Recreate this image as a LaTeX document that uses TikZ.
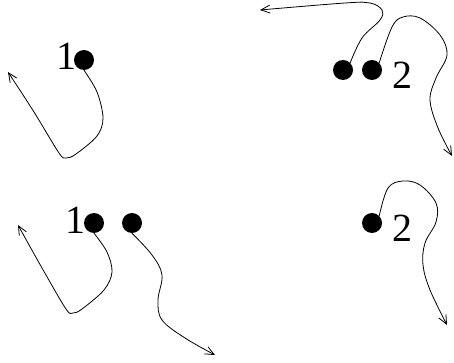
\documentclass[tikz,border=0pt]{standalone}
\usepackage{fontspec}
\setmainfont{Liberation Serif}
\usetikzlibrary{arrows.meta}
\tikzset{
  dot/.style={circle, fill=black, inner sep=0pt, minimum size=20pt},
  lbl/.style={inner sep=0pt, font=\fontsize{40}{44}\selectfont},
  path/.style={line width=0.8pt, -{Straight Barb[length=9pt,width=8pt,line width=0.8pt]}},
}
\begin{document}
\begin{tikzpicture}[x=1pt, y=-1pt]
\useasboundingbox (0,0) rectangle (454,363);

% upper left: one particle labelled 1
\node[dot] (a1) at (84,60) {};
\node[lbl] (la1) at (66,56) {1};
\coordinate (ea1) at (8,72);
\draw[path] plot[smooth, tension=0.55] coordinates
  {(a1.south) (97,92) (103,118) (97,136) (76,154) (66,158) (59,153) (34,112) (ea1)};

% upper right: two particles labelled 2
\node[dot] (b1) at (343,70) {};
\node[dot] (b2) at (372,70) {};
\node[lbl] (lb) at (402,75) {2};
\coordinate (eb1) at (260,10);
\coordinate (eb2) at (452,156);
\draw[path] plot[smooth, tension=0.6] coordinates
  {(b1.north east) (362,38) (380,20) (382,10) (370,3) (345,3) (eb1)};
\draw[path] plot[smooth, tension=0.6] coordinates
  {(b2.north east) (392,27) (403,17) (420,18) (440,35) (447,55) (436,78) (430,100) (438,128) (eb2)};

% lower left: particle 1 and an unlabelled particle
\node[dot] (c1) at (94,223) {};
\node[lbl] (lc1) at (75,220) {1};
\node[dot] (c2) at (132,223) {};
\coordinate (ec1) at (18,225);
\coordinate (ec2) at (215,355);
\draw[path] plot[smooth, tension=0.55] coordinates
  {(c1.south) (107,252) (112,272) (104,290) (82,309) (73,313) (66,309) (42,268) (ec1)};
\draw[path] plot[smooth, tension=0.6] coordinates
  {(c2.south) (152,255) (162,275) (158,300) (162,320) (185,338) (ec2)};

% lower right: particle 2
\node[dot] (d1) at (372,223) {};
\node[lbl] (ld) at (402,228) {2};
\coordinate (ed1) at (447,325);
\draw[path] plot[smooth, tension=0.6] coordinates
  {(d1.north east) (388,188) (403,181) (420,185) (436,203) (436,222) (425,243) (423,265) (430,290) (ed1)};
\end{tikzpicture}
\end{document}
